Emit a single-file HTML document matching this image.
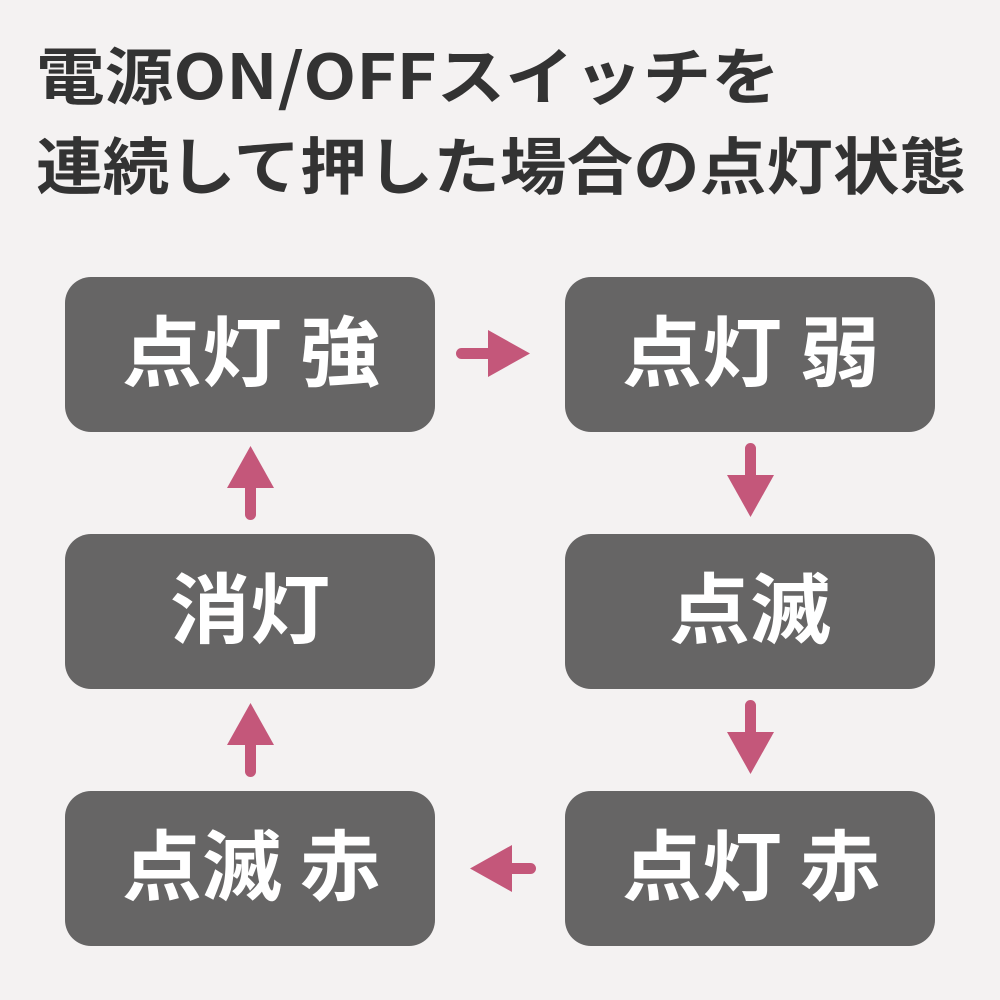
<!DOCTYPE html>
<html><head><meta charset="utf-8"><style>
html,body{margin:0;padding:0;background:#f4f2f2;}
svg{display:block}
text{font-family:"Noto Sans CJK JP","Liberation Sans",sans-serif;font-weight:bold}
</style></head><body>
<svg width="1000" height="1000" viewBox="0 0 1000 1000" xmlns="http://www.w3.org/2000/svg">
<rect width="1000" height="1000" fill="#f4f2f2"/>
<g fill="#333333" font-size="62">
<text x="36" y="99" textLength="744" lengthAdjust="spacingAndGlyphs">電源ON/OFFスイッチを</text>
<text x="36" y="189" textLength="930" lengthAdjust="spacingAndGlyphs">連続して押した場合の点灯状態</text>
</g>
<g fill="#666565">
<rect x="65" y="277" width="370" height="155" rx="26"/>
<rect x="565" y="277" width="370" height="155" rx="26"/>
<rect x="65" y="534" width="370" height="155" rx="26"/>
<rect x="565" y="534" width="370" height="155" rx="26"/>
<rect x="65" y="791" width="370" height="155" rx="26"/>
<rect x="565" y="791" width="370" height="155" rx="26"/>
</g>
<g fill="#ffffff" font-size="77" dominant-baseline="central">
<text x="122" y="348" textLength="258" lengthAdjust="spacingAndGlyphs">点灯 強</text>
<text x="622" y="348" textLength="258" lengthAdjust="spacingAndGlyphs">点灯 弱</text>
<text x="170" y="605" textLength="160" lengthAdjust="spacingAndGlyphs">消灯</text>
<text x="669" y="605" textLength="162" lengthAdjust="spacingAndGlyphs">点滅</text>
<text x="122" y="862" textLength="258" lengthAdjust="spacingAndGlyphs">点滅 赤</text>
<text x="622" y="862" textLength="258" lengthAdjust="spacingAndGlyphs">点灯 赤</text>
</g>
<g fill="#c4577a" stroke="none">
<rect x="456" y="348" width="40" height="11" rx="5.5"/>
<polygon points="488,330 530,353.5 488,377"/>
<rect x="745" y="443" width="11" height="40" rx="5.5"/>
<polygon points="727,475 774,475 750.5,517"/>
<rect x="745" y="700" width="11" height="40" rx="5.5"/>
<polygon points="727,732 774,732 750.5,774"/>
<rect x="496" y="863" width="40" height="11" rx="5.5"/>
<polygon points="512,845 470,868.5 512,892"/>
<rect x="245" y="480" width="11" height="40" rx="5.5"/>
<polygon points="227,488 274,488 250.5,446"/>
<rect x="245" y="737" width="11" height="40" rx="5.5"/>
<polygon points="227,745 274,745 250.5,703"/>
</g>
</svg>
</body></html>
